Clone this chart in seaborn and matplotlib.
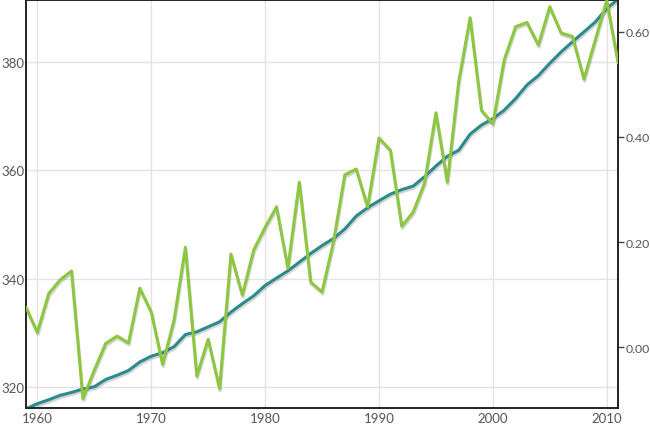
import matplotlib
matplotlib.use("Agg")
import matplotlib.pyplot as plt
import matplotlib.patheffects as pe
import numpy as np
import pandas as pd
import seaborn as sns

# yearly values
years = list(range(1959, 2012))

co2_ppm = [315.97, 316.91, 317.64, 318.45, 318.99, 319.62, 320.04, 321.38, 322.16, 323.04,
           324.62, 325.68, 326.32, 327.45, 329.68, 330.18, 331.11, 332.04, 333.83, 335.40,
           336.84, 338.75, 340.11, 341.45, 343.05, 344.65, 346.12, 347.42, 349.19, 351.57,
           353.12, 354.39, 355.61, 356.45, 357.10, 358.83, 360.82, 362.61, 363.73, 366.70,
           368.38, 369.55, 371.14, 373.28, 375.80, 377.52, 379.80, 381.90, 383.79, 385.60,
           387.43, 389.90, 391.65]

temp_anomaly = [0.076, 0.028, 0.102, 0.128, 0.145, -0.098, -0.044, 0.007, 0.021, 0.008,
                0.112, 0.067, -0.033, 0.051, 0.190, -0.055, 0.015, -0.079, 0.177, 0.099,
                0.185, 0.228, 0.267, 0.150, 0.314, 0.124, 0.105, 0.200, 0.328, 0.339,
                0.267, 0.398, 0.375, 0.230, 0.257, 0.312, 0.446, 0.314, 0.505, 0.627,
                0.451, 0.425, 0.547, 0.610, 0.618, 0.575, 0.648, 0.598, 0.591, 0.510,
                0.585, 0.660, 0.541]

left_ticks = [320, 340, 360, 380]
right_ticks = [0.0, 0.2, 0.4, 0.6]
year_ticks = [1960, 1970, 1980, 1990, 2000, 2010]

df = pd.DataFrame({"year": years, "co2": co2_ppm, "temp": temp_anomaly})

sns.set_style("white")
plt.rcParams["font.family"] = ["Lato", "DejaVu Sans"]

fig = plt.figure(figsize=(6.5, 4.27), dpi=100)
ax = fig.add_axes([0.04, 0.042, 0.911, 0.956])
ax2 = ax.twinx()

shadow = [pe.SimpleLineShadow(offset=(0.5, -1.5), alpha=0.25, shadow_color="#555555"), pe.Normal()]

sns.lineplot(data=df, x="year", y="co2", ax=ax, color="#2b8a8c", linewidth=2.2,
             path_effects=shadow, zorder=3)
sns.lineplot(data=df, x="year", y="temp", ax=ax2, color="#8dc641", linewidth=2.2,
             path_effects=shadow, zorder=4)

ax.set_xlim(1959, 2011)
ax.set_ylim(316.1, 391.5)
ax2.set_ylim(-0.116, 0.661)

ax.set_xticks(year_ticks)
ax.set_yticks(left_ticks)
ax2.set_yticks(right_ticks)
ax2.set_yticklabels([f"{t:.2f}" for t in right_ticks])

ax.grid(True, color="#e3e3e3", linewidth=1)
ax2.grid(False)
ax.set_xlabel("")
ax.set_ylabel("")
ax2.set_xlabel("")
ax2.set_ylabel("")

ax.tick_params(axis="both", length=0, labelsize=9.5, labelcolor="#555555", pad=3)
ax.tick_params(axis="y", pad=1)
ax2.tick_params(axis="y", length=4, width=1, color="#444444", labelsize=8.8,
                labelcolor="#555555", pad=1.5)

for a in (ax, ax2):
    for s in a.spines.values():
        s.set_color("#222222")
        s.set_linewidth(1.2)

fig.savefig("out.png", dpi=100)
